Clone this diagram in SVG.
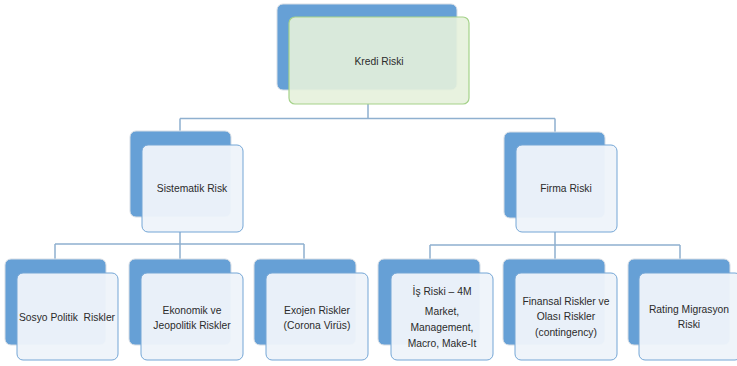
<svg xmlns="http://www.w3.org/2000/svg" width="737" height="366" viewBox="0 0 737 366">
  <style>
    .back { fill: #66a0d6; stroke: #d6dde5; stroke-width: 1; }
    .front { fill: #eef4fa; fill-opacity: 0.96; stroke: #74a6d6; stroke-width: 1; }
    .front-root { fill: #e6f1dc; fill-opacity: 0.9; stroke: #a5d28a; stroke-width: 1.2; }
    .lbl { font-family: "Liberation Sans", Arial, sans-serif; font-size: 10.3px; fill: #2b2b2b; text-anchor: middle; }
    .conn { fill: none; stroke: #8fb0cf; stroke-width: 1.5; }
  </style>

  <!-- connectors -->
  <g id="connectors" class="conn">
    <path d="M368 104 V118.5 M180 118.5 H555 M180 118.5 V131 M555 118.5 V132"/>
    <path d="M180 232 V244 M55 244 H304 M55 244 V259 M180 244 V259 M304 244 V259"/>
    <path d="M555 232 V245 M430 245 H680 M430 245 V259 M555 245 V259 M680 245 V259"/>
  </g>

  <!-- root -->
  <g id="kredi-riski">
    <rect class="back" x="277" y="4" width="180" height="86" rx="6"/>
    <rect class="front-root" x="289" y="17" width="180" height="87" rx="6"/>
    <text class="lbl" x="379" y="65">Kredi Riski</text>
  </g>

  <!-- level 2 -->
  <g id="sistematik-risk">
    <rect class="back" x="130" y="131" width="101" height="86" rx="6"/>
    <rect class="front" x="142" y="145" width="101" height="87" rx="6"/>
    <text class="lbl" x="192" y="192">Sistematik Risk</text>
  </g>
  <g id="firma-riski">
    <rect class="back" x="504" y="132" width="101" height="86" rx="6"/>
    <rect class="front" x="516" y="145" width="101" height="87" rx="6"/>
    <text class="lbl" x="566" y="192">Firma Riski</text>
  </g>

  <!-- level 3 -->
  <g id="sosyo-politik">
    <rect class="back" x="5" y="259" width="101" height="86" rx="6"/>
    <rect class="front" x="17" y="273" width="101" height="87" rx="6"/>
    <text class="lbl" x="67" y="321" xml:space="preserve">Sosyo Politik  Riskler</text>
  </g>
  <g id="ekonomik">
    <rect class="back" x="129" y="259" width="102" height="86" rx="6"/>
    <rect class="front" x="141" y="273" width="102" height="87" rx="6"/>
    <text class="lbl" x="192" y="314">Ekonomik ve</text>
    <text class="lbl" x="192" y="329">Jeopolitik Riskler</text>
  </g>
  <g id="exojen">
    <rect class="back" x="254" y="259" width="102" height="86" rx="6"/>
    <rect class="front" x="266" y="273" width="102" height="87" rx="6"/>
    <text class="lbl" x="317" y="314">Exojen Riskler</text>
    <text class="lbl" x="317" y="329">(Corona Virüs)</text>
  </g>
  <g id="is-riski">
    <rect class="back" x="378" y="259" width="102" height="86" rx="6"/>
    <rect class="front" x="391" y="273" width="102" height="87" rx="6"/>
    <text class="lbl" x="442" y="295">İş Riski – 4M</text>
    <text class="lbl" x="442" y="315">Market,</text>
    <text class="lbl" x="442" y="331">Management,</text>
    <text class="lbl" x="442" y="347">Macro, Make-It</text>
  </g>
  <g id="finansal">
    <rect class="back" x="503" y="259" width="102" height="86" rx="6"/>
    <rect class="front" x="515" y="273" width="102" height="87" rx="6"/>
    <text class="lbl" x="566" y="305">Finansal Riskler ve</text>
    <text class="lbl" x="566" y="320">Olası Riskler</text>
    <text class="lbl" x="566" y="336">(contingency)</text>
  </g>
  <g id="rating">
    <rect class="back" x="628" y="259" width="102" height="86" rx="6"/>
    <rect class="front" x="639" y="273" width="102" height="87" rx="6"/>
    <text class="lbl" x="689" y="313">Rating Migrasyon</text>
    <text class="lbl" x="689" y="328">Riski</text>
  </g>
</svg>
